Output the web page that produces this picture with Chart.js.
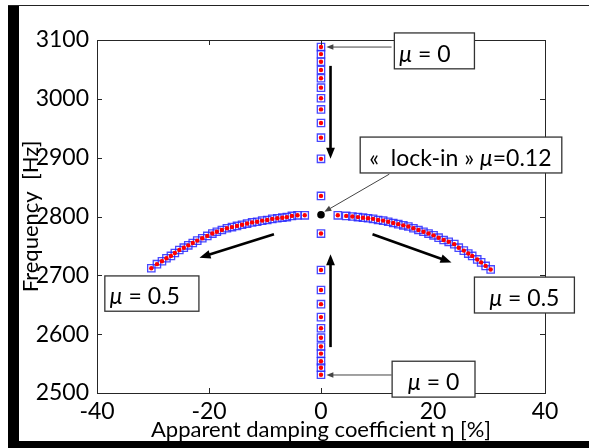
<!DOCTYPE html>
<html>
<head>
<meta charset="utf-8">
<script src="https://cdn.jsdelivr.net/npm/chart.js@4/dist/chart.umd.min.js"></script>
<style>
  html, body { margin: 0; padding: 0; background: #fff; }
  canvas { display: block; }
</style>
</head>
<body>
<canvas id="chart" width="589" height="448"></canvas>
<script>
// frequency (Hz) of the two coalescing modes, eta = 0
const verticalEta = 0;
const upperHz = [3088, 3076, 3063, 3049, 3035, 3019, 3001, 2982, 2959, 2934, 2898, 2835];
const lowerHz = [2771, 2709, 2675, 2651, 2629, 2610, 2594, 2579, 2567, 2554, 2543, 2531];

// unstable / stable branches after lock-in
const leftEta = [-30.3, -29.3, -28.4, -27.6, -26.8, -26.1, -25.3, -24.5, -23.7, -22.9, -22.1, -21.2, -20.3, -19.4, -18.6, -17.7,
  -16.8, -15.9, -15.0, -14.1, -13.2, -12.3, -11.4, -10.5, -9.6, -8.7, -7.8, -6.9, -6.1, -5.2, -4.2, -2.9];
const leftHz = [2712, 2719, 2724, 2729, 2733, 2738, 2743, 2747, 2751, 2755, 2759, 2763, 2767, 2771, 2774, 2777,
  2780, 2782, 2784, 2786, 2788, 2790, 2791, 2793, 2794, 2796, 2797, 2798, 2799, 2801, 2802, 2802];
const rightEta = [3.0, 4.5, 5.6, 6.6, 7.5, 8.4, 9.3, 10.2, 11.1, 12.0, 12.9, 13.8, 14.7, 15.6, 16.5, 17.4,
  18.3, 19.2, 20.1, 21.0, 21.9, 22.8, 23.8, 24.6, 25.5, 26.3, 27.0, 27.9, 28.6, 29.4, 30.3];
const rightHz = [2802, 2801, 2800, 2799, 2798, 2797, 2796, 2794, 2793, 2791, 2789, 2787, 2785, 2783, 2780, 2777,
  2774, 2771, 2768, 2764, 2760, 2757, 2753, 2747, 2742, 2737, 2733, 2727, 2722, 2716, 2710];

const lockInEta = 0;
const lockInHz = 2803;

const xTicks = [-40, -20, 0, 20, 40];
const yTicks = [2500, 2600, 2700, 2800, 2900, 3000, 3100];

const FONT = 'Lato, "Open Sans", sans-serif';

const points = [].concat(
  upperHz.map((h) => ({ x: verticalEta, y: h })),
  lowerHz.map((h) => ({ x: verticalEta, y: h })),
  leftEta.map((e, i) => ({ x: e, y: leftHz[i] })),
  rightEta.map((e, i) => ({ x: e, y: rightHz[i] }))
);

// annotations, anchored in data units (eta %, Hz)
const boxes = [
  { x1: 13.1, y1: 3112, x2: 27.4, y2: 3051, dx: 5, parts: [['μ', true], [' = 0', false]] },
  { x1: 7.0, y1: 2935, x2: 43.0, y2: 2874, dx: 9, parts: [['«  lock-in » ', false], ['μ', true], ['=0.12', false]] },
  { x1: -38.6, y1: 2699, x2: -21.8, y2: 2639, dx: 5, parts: [['μ', true], [' = 0.5', false]] },
  { x1: 27.4, y1: 2697, x2: 45.25, y2: 2636, dx: 15, parts: [['μ', true], [' = 0.5', false]] },
  { x1: 12.7, y1: 2554, x2: 27.5, y2: 2493, dx: 16, parts: [['μ', true], [' = 0', false]] },
];
const thinArrows = [
  [12.6, 3088, 0.96, 3088],
  [12.2, 2872, 0.6, 2808],
  [12.6, 2530.6, 0.96, 2530.6],
];
const thickArrows = [
  [1.7, 3056, 1.7, 2898],
  [1.7, 2578, 1.7, 2736],
  [-8.4, 2769.7, -21.7, 2730],
  [9.2, 2769.7, 23.3, 2722],
];

function arrow(ctx, x1, y1, x2, y2, w, head, color) {
  const a = Math.atan2(y2 - y1, x2 - x1);
  const c = Math.cos(a), s = Math.sin(a);
  ctx.strokeStyle = color;
  ctx.fillStyle = color;
  ctx.lineWidth = w;
  ctx.beginPath();
  ctx.moveTo(x1, y1);
  ctx.lineTo(x2 - head * 0.8 * c, y2 - head * 0.8 * s);
  ctx.stroke();
  ctx.beginPath();
  ctx.moveTo(x2, y2);
  ctx.lineTo(x2 - head * c + head * 0.4 * s, y2 - head * s - head * 0.4 * c);
  ctx.lineTo(x2 - head * c - head * 0.4 * s, y2 - head * s + head * 0.4 * c);
  ctx.closePath();
  ctx.fill();
}

const decor = {
  id: 'decor',
  afterDatasetsDraw(chart) {
    const { ctx, chartArea: a, scales: { x, y } } = chart;
    ctx.save();
    // axes box with inward ticks
    ctx.strokeStyle = '#262626';
    ctx.lineWidth = 1;
    ctx.strokeRect(Math.round(a.left) + 0.5, Math.round(a.top) + 0.5, Math.round(a.width), Math.round(a.height));
    ctx.beginPath();
    xTicks.forEach((v) => {
      const px = Math.round(x.getPixelForValue(v)) + 0.5;
      ctx.moveTo(px, a.bottom); ctx.lineTo(px, a.bottom - 5);
      ctx.moveTo(px, a.top); ctx.lineTo(px, a.top + 5);
    });
    yTicks.forEach((v) => {
      const py = Math.round(y.getPixelForValue(v)) + 0.5;
      ctx.moveTo(a.left, py); ctx.lineTo(a.left + 5, py);
      ctx.moveTo(a.right, py); ctx.lineTo(a.right - 5, py);
    });
    ctx.stroke();

    thinArrows.forEach((t) => arrow(ctx, x.getPixelForValue(t[0]), y.getPixelForValue(t[1]),
      x.getPixelForValue(t[2]), y.getPixelForValue(t[3]), 1, 7, '#444'));
    thickArrows.forEach((t) => arrow(ctx, x.getPixelForValue(t[0]), y.getPixelForValue(t[1]),
      x.getPixelForValue(t[2]), y.getPixelForValue(t[3]), 2.6, 11, '#000'));

    boxes.forEach((b) => {
      const l = x.getPixelForValue(b.x1), r = x.getPixelForValue(b.x2);
      const t = y.getPixelForValue(b.y1), btm = y.getPixelForValue(b.y2);
      ctx.fillStyle = '#fff';
      ctx.fillRect(l, t, r - l, btm - t);
      ctx.strokeStyle = '#333';
      ctx.lineWidth = 1.3;
      ctx.strokeRect(l, t, r - l, btm - t);
      let tx = l + b.dx;
      const base = t + (btm - t) * 0.8;
      ctx.fillStyle = '#000';
      ctx.textBaseline = 'alphabetic';
      b.parts.forEach(([txt, it]) => {
        ctx.font = (it ? 'italic ' : '') + '23px ' + FONT;
        ctx.fillText(txt, tx, base);
        tx += ctx.measureText(txt).width;
      });
    });
    ctx.restore();
  },
  afterDraw(chart) {
    const { ctx } = chart;
    ctx.save();
    ctx.fillStyle = '#000';
    ctx.fillRect(8, 5, 11, 443);
    ctx.fillRect(8, 441, 581, 7);
    ctx.fillStyle = '#222';
    ctx.fillRect(8, 5, 581, 1);
    ctx.restore();
  },
};

new Chart(document.getElementById('chart').getContext('2d'), {
  type: 'scatter',
  data: {
    datasets: [
      {
        label: 'lock-in',
        data: [{ x: lockInEta, y: lockInHz }],
        pointRadius: 3.8,
        backgroundColor: '#000',
        borderWidth: 0,
        order: 0,
      },
      {
        label: 'model',
        data: points,
        pointRadius: 2.2,
        backgroundColor: '#ff0000',
        borderWidth: 0,
        order: 1,
      },
      {
        label: 'measured',
        data: points,
        pointStyle: 'rect',
        pointRadius: 5.2,
        borderColor: 'rgba(40, 40, 255, 0.85)',
        backgroundColor: 'rgba(0,0,0,0)',
        borderWidth: 1.3,
        order: 2,
      },
    ],
  },
  options: {
    responsive: false,
    animation: false,
    layout: { padding: { left: 18, right: 44, top: 40, bottom: 5 } },
    plugins: { legend: { display: false }, tooltip: { enabled: false } },
    scales: {
      x: {
        type: 'linear',
        min: -40,
        max: 40,
        afterBuildTicks: (s) => { s.ticks = xTicks.map((v) => ({ value: v })); },
        ticks: { color: '#000', font: { family: FONT, size: 23 }, padding: 5, callback: (v) => String(v) },
        grid: { display: false, drawTicks: false },
        border: { display: false },
        title: {
          display: true,
          text: 'Apparent damping coefficient η [%]',
          color: '#000',
          font: { family: FONT, size: 22 },
          padding: 0,
        },
        afterFit: (s) => { s.height = 50; },
      },
      y: {
        type: 'linear',
        min: 2500,
        max: 3100,
        afterBuildTicks: (s) => { s.ticks = yTicks.map((v) => ({ value: v })); },
        ticks: { color: '#000', font: { family: FONT, size: 23 }, padding: 8, callback: (v) => String(v) },
        grid: { display: false, drawTicks: false },
        border: { display: false },
        title: {
          display: true,
          text: 'Frequency  [Hz]',
          color: '#000',
          font: { family: FONT, size: 22 },
          padding: 0,
        },
        afterFit: (s) => { s.width = 79; },
      },
    },
  },
  plugins: [decor],
});
</script>
</body>
</html>
